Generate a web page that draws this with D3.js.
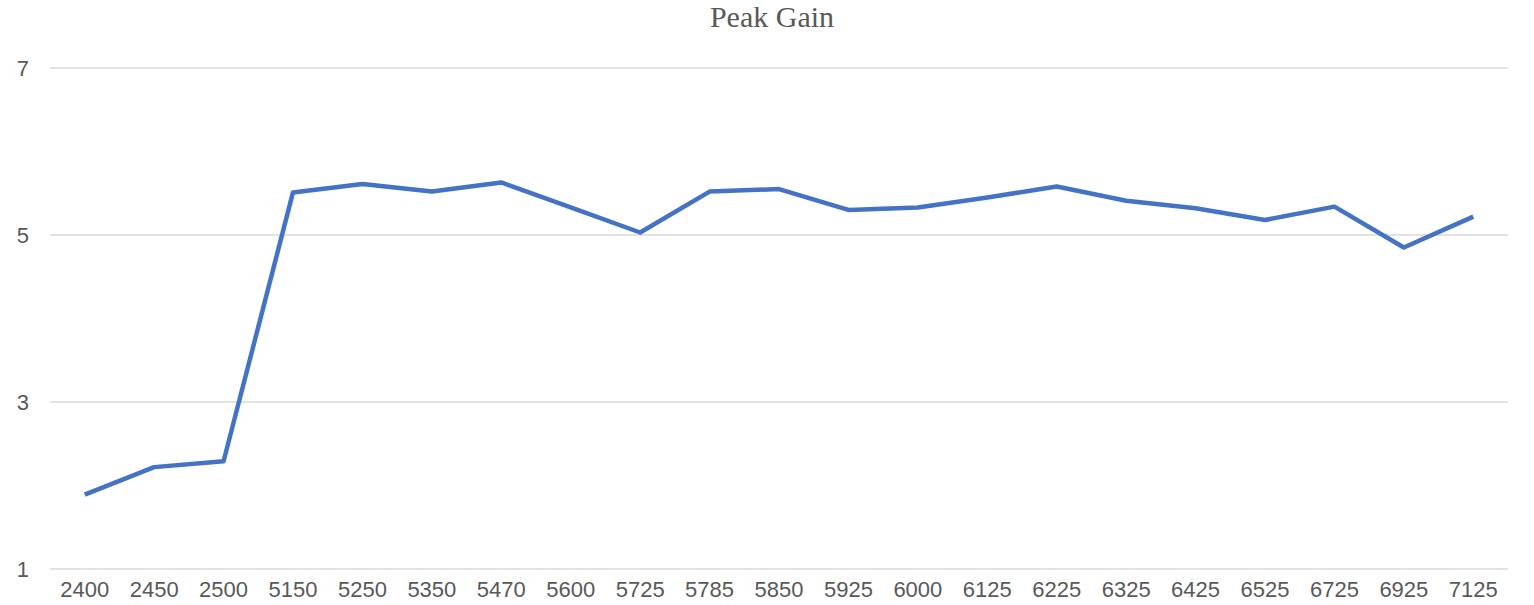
<!DOCTYPE html>
<html>
<head>
<meta charset="utf-8">
<script src="https://cdn.jsdelivr.net/npm/d3@7"></script>
<style>
  body { margin: 0; background: #fff; }
  text { fill: #595959; }
</style>
</head>
<body>
<div id="chart"></div>
<script>
// data
var categories = ["2400", "2450", "2500", "5150", "5250", "5350", "5470", "5600", "5725", "5785", "5850",
                  "5925", "6000", "6125", "6225", "6325", "6425", "6525", "6725", "6925", "7125"];
var gain = [1.89, 2.22, 2.29, 5.51, 5.61, 5.52, 5.63, 5.33, 5.03, 5.52, 5.55,
            5.30, 5.33, 5.45, 5.58, 5.41, 5.32, 5.18, 5.34, 4.85, 5.22];
var yTicks = [1, 3, 5, 7];

var margin = {top: 68, right: 26, bottom: 36, left: 50},
    width = 1534 - margin.left - margin.right,
    height = 605 - margin.top - margin.bottom;

var svg = d3.select("#chart").append("svg")
  .attr("width", 1534)
  .attr("height", 605);

var g = svg.append("g")
  .attr("transform", "translate(" + margin.left + "," + margin.top + ")");

var x = d3.scaleBand()
  .domain(categories)
  .range([0, width]);

var y = d3.scaleLinear()
  .domain([1, 7])
  .range([height, 0]);

// gridlines
g.selectAll(".grid")
  .data(yTicks)
  .enter()
  .append("line")
  .attr("x1", 0)
  .attr("x2", width)
  .attr("y1", function(d) { return y(d); })
  .attr("y2", function(d) { return y(d); })
  .attr("stroke", "#d9d9d9")
  .attr("stroke-width", 1.5);

// y axis
var yAxis = g.append("g")
  .call(d3.axisLeft(y).tickValues(yTicks).tickFormat(d3.format("d")).tickSize(0).tickPadding(21));
yAxis.select(".domain").remove();
yAxis.selectAll("text")
  .style("font-family", "Liberation Sans, Arial, sans-serif")
  .style("font-size", "22px")
  .attr("fill", "#595959");

// x axis
var xAxis = g.append("g")
  .attr("transform", "translate(0," + height + ")")
  .call(d3.axisBottom(x).tickSize(0).tickPadding(12));
xAxis.select(".domain").remove();
xAxis.selectAll("text")
  .style("font-family", "Liberation Sans, Arial, sans-serif")
  .style("font-size", "22px")
  .attr("fill", "#595959");

// line
var line = d3.line()
  .x(function(d, i) { return x(categories[i]) + x.bandwidth() / 2; })
  .y(function(d) { return y(d); });

g.append("path")
  .datum(gain)
  .attr("fill", "none")
  .attr("stroke", "#4472C4")
  .attr("stroke-width", 4.5)
  .attr("stroke-linejoin", "round")
  .attr("d", line);

// title
svg.append("text")
  .attr("x", 772)
  .attr("y", 27)
  .attr("text-anchor", "middle")
  .style("font-family", "Liberation Serif, Times New Roman, serif")
  .style("font-size", "30px")
  .text("Peak Gain");
</script>
</body>
</html>
